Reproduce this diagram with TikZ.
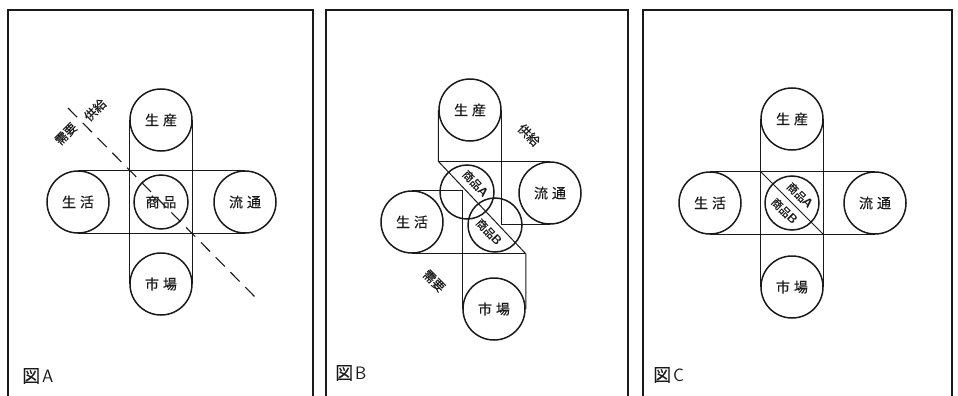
\documentclass[tikz,border=0pt]{standalone}
\usepackage{fontspec}
\newfontfamily\jp[FakeBold=0.3]{Noto Sans CJK JP}
\usetikzlibrary{calc}
\definecolor{ink}{HTML}{1A1A1A}
\tikzset{
  ring/.style={circle,draw=ink,line width=1.5pt,minimum size=62pt,inner sep=0pt,text=ink,font=\jp\fontsize{14}{16}\selectfont},
  core/.style={circle,draw=ink,line width=1.5pt,minimum size=54pt,inner sep=0pt,text=ink,font=\jp\fontsize{14}{16}\selectfont},
  band/.style={draw=ink,line width=1pt},
  frame/.style={draw=ink,line width=1.3pt},
  cut/.style={draw=ink,line width=1.1pt,dash pattern=on 13pt off 8pt},
  side/.style={text=ink,font=\jp\fontsize{12.5}{14}\selectfont,inner sep=0pt},
  word/.style={text=ink,font=\jp\fontsize{11}{13}\selectfont,inner sep=0pt},
  tag/.style={text=ink,font=\jp\fontsize{18}{20}\selectfont,anchor=west,inner sep=0pt}
}

\begin{document}
\begin{tikzpicture}[x=1pt,y=-1pt]
  \path[use as bounding box] (0,0) rectangle (958,396);

  % Panel frames, open at the bottom.
  \draw[frame] (8,396) -- (8,10) -- (313,10) -- (313,396);
  \draw[frame] (326,396) -- (326,10) -- (628,10) -- (628,396);
  \draw[frame] (643,396) -- (643,10) -- (952,10) -- (952,396);

  % Figure A: one commodity in the middle.
  \node[ring] (asc) at (161,120) {生\hspace{4pt}産};
  \node[ring] (ash) at (78,202) {生\hspace{4pt}活};
  \node[core] (asp) at (161,202) {商\hspace{3pt}品};
  \node[ring] (ary) at (245,202) {流\hspace{4pt}通};
  \node[ring] (asj) at (161,284) {市\hspace{4pt}場};
  \draw[band] (asc.west) -- (asj.west);
  \draw[band] (asc.east) -- (asj.east);
  \draw[band] (ash.north) -- (ary.north);
  \draw[band] (ash.south) -- (ary.south);
  \coordinate (ad1) at ($(asp)+(-93,-94)$);
  \coordinate (ad2) at ($(asp)+(94,95)$);
  \draw[cut] (ad1) -- (ad2);
  \node[side,rotate=45] (ajy) at (66,134) {需要};
  \node[side,rotate=45] (akk) at (95,110) {供給};
  \node[tag] (atag) at (22,376) {図\hspace{2pt}{\sffamily A}};

  % Figure B: commodity split into A and B.
  \node[ring] (bsc) at (470,110) {生\hspace{4pt}産};
  \node[ring] (bry) at (550,193) {流\hspace{4pt}通};
  \node[ring] (bsh) at (412,222) {生\hspace{4pt}活};
  \node[ring] (bsj) at (494,309) {市\hspace{4pt}場};
  \node[core] (bpa) at (467,192) {};
  \node[core] (bpb) at (495,225) {};
  \coordinate (bk1) at (bsc.west |- bry.north);
  \coordinate (bk2) at (bsj.east |- bsh.south);
  \draw[band] (bsc.west) -- (bk1) -- (bk2) -- (bsj.east);
  \draw[band] (bk1) -- (bry.north);
  \draw[band] (bsh.south) -- (bk2);
  \draw[band] (bsc.east) -- (bsc.east |- bry.south) -- (bry.south);
  \draw[band] (bsh.north) -- (bsh.north -| bsj.west) -- (bsj.west);
  \node[word,rotate=-46.6] (bta) at ($(bpa)+(8.5,-8.5)$) {商品{\sffamily\bfseries\fontsize{12.5}{13}\selectfont A}};
  \node[word,rotate=-46.6] (btb) at ($(bpb)+(-6,7)$) {商品{\sffamily\bfseries\fontsize{12.5}{13}\selectfont B}};
  \node[side,rotate=-45] (bkk) at (529,135) {供給};
  \node[side,rotate=-45] (bjy) at (434,281) {需要};
  \node[tag] (btag) at (335,373) {図\hspace{2pt}{\sffamily B}};

  % Figure C: both commodities in one circle.
  \node[ring] (csc) at (792,119) {生\hspace{4pt}産};
  \node[ring] (csh) at (710,203) {生\hspace{4pt}活};
  \node[core] (cpp) at (792,203) {};
  \node[ring] (cry) at (875,203) {流\hspace{4pt}通};
  \node[ring] (csj) at (792,287) {市\hspace{4pt}場};
  \draw[band] (csc.west) -- (csj.west);
  \draw[band] (csc.east) -- (csj.east);
  \draw[band] (csh.north) -- (cry.north);
  \draw[band] (csh.south) -- (cry.south);
  \draw[band] (csc.west |- csh.north) -- (csc.east |- csh.south);
  \node[word,rotate=-45] (cta) at ($(cpp)+(8,-7.5)$) {商品{\sffamily\bfseries\fontsize{12.5}{13}\selectfont A}};
  \node[word,rotate=-45] (ctb) at ($(cpp)+(-7.5,8)$) {商品{\sffamily\bfseries\fontsize{12.5}{13}\selectfont B}};
  \node[tag] (ctag) at (653,375) {図\hspace{2pt}{\sffamily C}};
\end{tikzpicture}
\end{document}
